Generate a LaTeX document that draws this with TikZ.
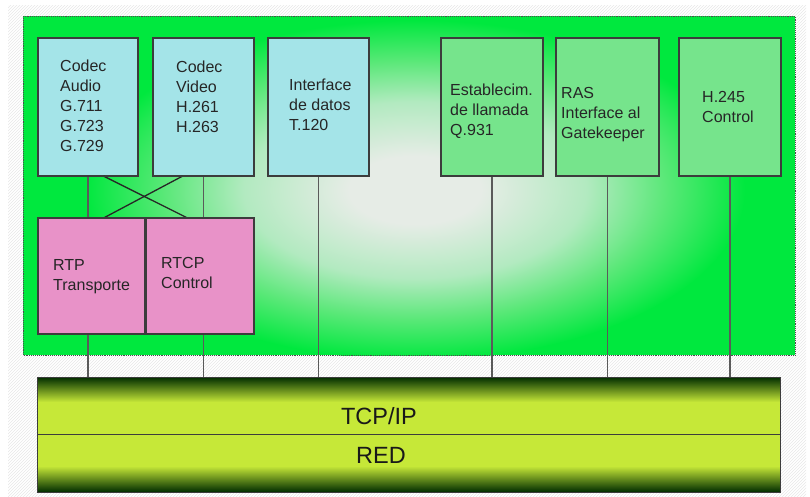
\documentclass[tikz,border=0pt]{standalone}
\usepackage{fontspec}
\setmainfont{Liberation Sans}
\usetikzlibrary{calc,patterns}
\definecolor{panelgreen}{RGB}{0,232,62}
\definecolor{glowc}{RGB}{230,236,230}
\definecolor{glowmid}{RGB}{178,234,192}
\definecolor{glowlow}{RGB}{90,232,120}
\definecolor{bluefill}{RGB}{164,228,232}
\definecolor{greenfill}{RGB}{118,228,140}
\definecolor{pinkfill}{RGB}{232,146,200}
\definecolor{bardark}{RGB}{0,44,0}
\definecolor{barmid}{RGB}{100,150,18}
\definecolor{barlight}{RGB}{198,232,56}
\definecolor{edge}{RGB}{60,60,60}
\definecolor{wire}{RGB}{90,90,90}
\pgfdeclareradialshading{glowshade}{\pgfpoint{0bp}{0bp}}{color(0bp)=(glowc); color(5bp)=(glowc); color(13bp)=(glowmid); color(19bp)=(glowlow); color(25bp)=(panelgreen); color(50bp)=(panelgreen)}
\tikzset{
  box/.style={draw=edge, line width=1.1pt, rectangle, inner sep=0pt, anchor=north west},
  bluebox/.style={box, fill=bluefill},
  greenbox/.style={box, fill=greenfill},
  pinkbox/.style={box, fill=pinkfill},
  lbl/.style={font=\fontsize{16}{20}\selectfont, align=left, inner sep=0pt, anchor=base west, text=black!85},
  biglbl/.style={font=\fontsize{23.5}{28}\selectfont, inner sep=0pt, text=black!90},
  wireline/.style={draw=wire, line width=1.4pt},
  crossline/.style={draw=black!85, line width=1.3pt}
}
\begin{document}
\begin{tikzpicture}[x=1pt,y=-1pt]
\useasboundingbox (0,0) rectangle (810,496);
\fill[white] (0,0) rectangle (810,496);
\fill[pattern=north east lines, pattern color=black!9] (8,5) rectangle (806,496);
% panel
\node[rectangle, fill=panelgreen, minimum width=772pt, minimum height=339pt, inner sep=0pt, anchor=north west] (panel) at (23,16) {};
\begin{scope}
  \clip (panel.north west) rectangle (panel.south east);
  \shade[shading=glowshade] (415,190) ellipse [x radius=330pt, y radius=170pt];
\end{scope}
\draw[densely dotted, draw=black!70, line width=0.9pt] (panel.north west) rectangle (panel.south east);
% boxes
\node[bluebox, minimum width=99pt, minimum height=137pt] (audio) at (38,38) {};
\node[bluebox, minimum width=100pt, minimum height=137pt] (video) at (153,38) {};
\node[bluebox, minimum width=100pt, minimum height=137pt] (datos) at (268,38) {};
\node[greenbox, minimum width=101pt, minimum height=137pt] (llamada) at (441,38) {};
\node[greenbox, minimum width=102pt, minimum height=137pt] (ras) at (556,38) {};
\node[greenbox, minimum width=101pt, minimum height=137pt] (hcontrol) at (679,38) {};
\node[pinkbox, minimum width=107pt, minimum height=115pt] (rtp) at (38,218) {};
\node[pinkbox, minimum width=108pt, minimum height=115pt] (rtcp) at (145,218) {};
% bar
\coordinate (barNW) at (37,377);
\shade[top color=bardark, middle color=barmid, bottom color=barlight] (37,377) rectangle (780,402);
\fill[barlight] (37,401.5) rectangle (780,466.5);
\shade[top color=barlight, middle color=barmid, bottom color=bardark] (37,466) rectangle (780,492);
\node[rectangle, draw=edge, line width=0.9pt, minimum width=743pt, minimum height=115pt, inner sep=0pt, anchor=north west] (bar) at (barNW) {};
\draw[edge, line width=1pt] (bar.west |- 0,434) -- (bar.east |- 0,434);
\node[biglbl] (tcp) at (379,416) {TCP/IP};
\node[biglbl] (red) at (381,455) {RED};
% connectors
\draw[wireline] (audio.south) -- (audio.south |- rtp.north);
\draw[wireline] (video.south) -- (video.south |- rtcp.north);
\draw[wireline] (rtp.south -| audio.south) -- (audio.south |- bar.north);
\draw[wireline] (rtcp.south -| video.south) -- (video.south |- bar.north);
\draw[wireline] (datos.south) -- (datos.south |- bar.north);
\draw[wireline] (llamada.south) -- (llamada.south |- bar.north);
\draw[wireline] (ras.south) -- (ras.south |- bar.north);
\draw[wireline] (hcontrol.south) -- (hcontrol.south |- bar.north);
\draw[crossline] ($(audio.south)+(15.5,0)$) -- ($(rtcp.north)+(-12,0)$);
\draw[crossline] ($(video.south)+(-21,0)$) -- ($(rtp.north)+(11.5,0)$);
% redraw box outlines over line ends
\foreach \n in {audio,video,datos,llamada,ras,hcontrol,rtp,rtcp}{\draw[edge, line width=1.1pt] (\n.north west) rectangle (\n.south east);}
% labels (anchored at the baseline of the last line)
\node[lbl] (t1) at (60,151.5) {Codec\\Audio\\G.711\\G.723\\G.729};
\node[lbl] (t2) at (176,132) {Codec\\Video\\H.261\\H.263};
\node[lbl] (t3) at (289,130.5) {Interface\\de datos\\T.120};
\node[lbl] (t4) at (450,135) {Establecim.\\de llamada\\Q.931};
\node[lbl] (t5) at (561,138) {RAS\\Interface al\\Gatekeeper};
\node[lbl] (t6) at (702,122) {H.245\\Control};
\node[lbl] (t7) at (53,290) {RTP\\Transporte};
\node[lbl] (t8) at (161,288) {RTCP\\Control};
\end{tikzpicture}
\end{document}
